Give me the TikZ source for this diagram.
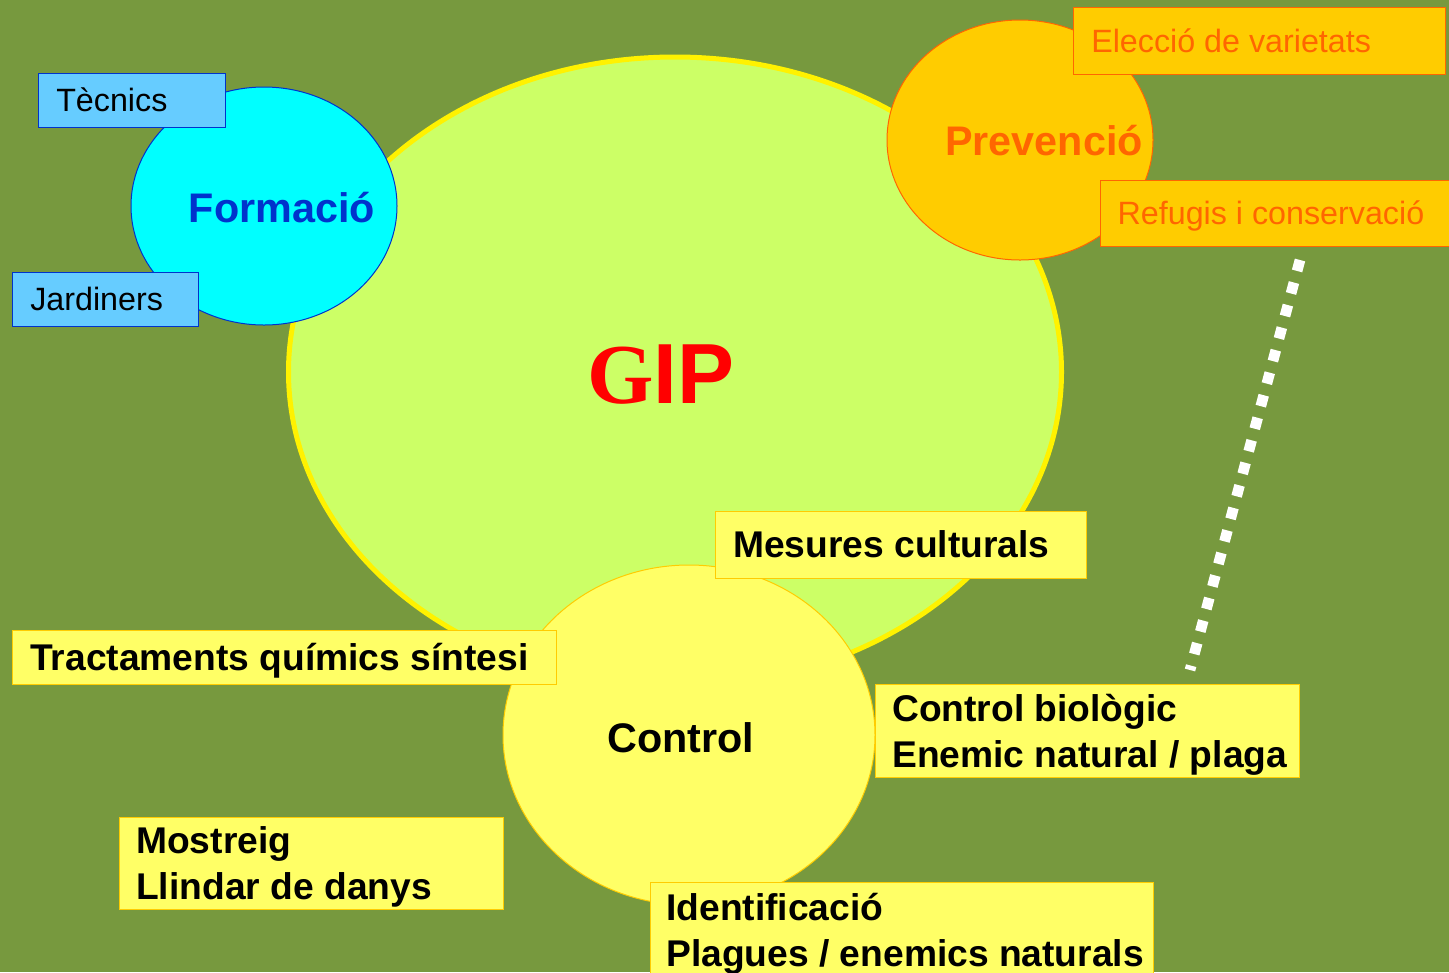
\documentclass[tikz,border=0pt]{standalone}
\usepackage{fontspec}
\setmainfont{Liberation Sans}
\newfontfamily\gipserif{Liberation Serif}
\usetikzlibrary{shapes.geometric,positioning}

\definecolor{bgolive}{RGB}{119,153,62}
\definecolor{lime}{RGB}{204,255,102}
\definecolor{aqua}{RGB}{0,255,255}
\definecolor{gipblue}{RGB}{0,51,204}
\definecolor{tagblue}{RGB}{102,204,255}
\definecolor{gold}{RGB}{255,204,0}
\definecolor{giporange}{RGB}{255,102,0}
\definecolor{paleyellow}{RGB}{255,255,102}

\tikzset{
  blob/.style={ellipse, inner sep=0pt, outer sep=0pt, line width=0.75pt},
  tag/.style={draw, anchor=north west, inner sep=0pt, outer sep=0pt, line width=0.75pt},
  bluetag/.style={tag, draw=gipblue, fill=tagblue},
  orangetag/.style={tag, draw=giporange, fill=gold},
  yellowtag/.style={tag, draw=gold, fill=paleyellow},
  tagtext/.style={anchor=west, inner sep=0pt, align=left, text depth=0pt},
  thin text/.style={tagtext, font=\fontsize{24.2}{29}\selectfont},
  bold text/.style={tagtext, font=\bfseries\fontsize{27.9}{34.5}\selectfont},
  bigword/.style={anchor=base, font=\bfseries\fontsize{31}{36}\selectfont},
}

\begin{document}
\begin{tikzpicture}[x=0.75pt,y=0.75pt,yscale=-1,xscale=1]
\clip (0,0) rectangle (1449,972);
\fill[bgolive] (0,0) rectangle (1449,972);

% GIP ellipse
\node[blob, draw=yellow, line width=3.75pt, fill=lime, minimum width=579.75pt, minimum height=472.5pt] (gip) at (675,372) {};

% Formacio
\node[blob, draw=gipblue, fill=aqua, minimum width=199.5pt, minimum height=178.5pt] (formacio) at (264,206) {};
\node[bluetag, minimum width=140.25pt, minimum height=40.5pt] (tecnics) at (38,73) {};
\node[thin text, right=13.5pt of tecnics.west] {Tècnics};
\node[bluetag, minimum width=139.5pt, minimum height=40.5pt] (jardiners) at (12,272) {};
\node[thin text, right=13.5pt of jardiners.west] {Jardiners};

% Prevencio
\node[blob, draw=giporange, fill=gold, minimum width=199.5pt, minimum height=180pt] (prevencio) at (1020,140) {};
\node[orangetag, minimum width=279pt, minimum height=50.25pt] (eleccio) at (1073,7) {};
\node[thin text, text=giporange, right=13.5pt of eleccio.west] {Elecció de varietats};
\node[orangetag, minimum width=270pt, minimum height=49.5pt] (refugis) at (1100,180) {};
\node[thin text, text=giporange, right=13pt of refugis.west] {Refugis i conservació};

% dotted link
\coordinate (dotA) at (1300,260);
\coordinate (dotB) at (1190,670);
\draw[white, line width=8pt, dash pattern=on 8.5pt off 9pt] (dotA) -- (dotB);

% Control
\node[blob, draw=gold, fill=paleyellow, minimum width=279pt, minimum height=255pt] (control) at (689,735) {};
\node[yellowtag, minimum width=278.25pt, minimum height=50.25pt] (mesures) at (715,511) {};
\node[bold text, right=13.5pt of mesures.west] {Mesures culturals};
\node[yellowtag, minimum width=408pt, minimum height=40.5pt] (tractaments) at (12,630) {};
\node[bold text, right=13.5pt of tractaments.west] {Tractaments químics síntesi};
\node[yellowtag, minimum width=318pt, minimum height=69.75pt] (biologic) at (875,684) {};
\node[bold text, right=12.75pt of biologic.west] {Control biològic\\Enemic natural / plaga};
\node[yellowtag, minimum width=288pt, minimum height=69pt] (mostreig) at (119,817) {};
\node[bold text, right=12.75pt of mostreig.west] {Mostreig\\Llindar de danys};
\node[yellowtag, minimum width=377.25pt, minimum height=71.25pt] (identificacio) at (650,882) {};
\node[bold text, right=12pt of identificacio.west] {Identificació\\Plagues / enemics naturals};

% Text Node
\node[anchor=base, text=red, font=\bfseries\fontsize{64}{70}\selectfont] (giplabel) at (661,403) {{\gipserif G}IP};
% Text Node
\node[bigword, text=gipblue] (formaciolabel) at (282,222) {Formació};
% Text Node
\node[bigword, text=giporange] (prevenciolabel) at (1044,155) {Prevenció};
% Text Node
\node[bigword] (controllabel) at (681,752) {Control};
\end{tikzpicture}
\end{document}
